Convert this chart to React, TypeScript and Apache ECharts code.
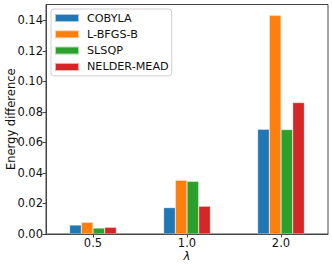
import React, { useEffect, useRef } from "react";
import * as echarts from "echarts";

const categories = ["0.5", "1.0", "2.0"];
const seriesNames = ["COBYLA", "L-BFGS-B", "SLSQP", "NELDER-MEAD"];
const cobyla = [0.0059, 0.0173, 0.0686];
const lbfgsb = [0.0077, 0.0352, 0.1432];
const slsqp = [0.0039, 0.0345, 0.0684];
const nelderMead = [0.0044, 0.0182, 0.0861];
const colors = ["#1f77b4", "#ff7f0e", "#2ca02c", "#d62728"];
const yTicks = [0, 0.02, 0.04, 0.06, 0.08, 0.1, 0.12, 0.14];

export default function App() {
  const ref = useRef<HTMLDivElement>(null);
  useEffect(() => {
    if (!ref.current) return;
    const chart = echarts.init(ref.current, undefined, { renderer: "svg" });
    const font = "DejaVu Sans";
    const fs = 11.5;
    const values = [cobyla, lbfgsb, slsqp, nelderMead];
    chart.setOption({
      animation: false,
      textStyle: { fontFamily: font },
      grid: {
        left: 46,
        right: 4,
        top: 4.5,
        bottom: 32,
        show: true,
        borderColor: "#444",
        borderWidth: 1,
        containLabel: false,
        outerBoundsMode: "none",
      },
      legend: {
        data: seriesNames,
        orient: "vertical",
        left: 51,
        top: 9,
        itemWidth: 24,
        itemHeight: 8,
        itemGap: 4.3,
        icon: "rect",
        padding: [3, 3, 3, 3],
        backgroundColor: "#fff",
        borderColor: "#d0d0d0",
        borderWidth: 1,
        borderRadius: 3,
        textStyle: { fontFamily: font, fontSize: 11.2, lineHeight: 12, color: "#111", padding: [0, 0, 0, 3] },
      },
      xAxis: {
        type: "category",
        data: categories,
        name: "λ",
        nameLocation: "middle",
        nameGap: 16,
        nameMoveOverlap: false,
        nameTextStyle: { fontFamily: font, fontSize: fs, lineHeight: 11, fontStyle: "italic", color: "#111" },
        axisLine: { show: true, lineStyle: { color: "#444", width: 1 } },
        axisTick: { show: true, alignWithLabel: true, length: 3.5, lineStyle: { color: "#444" } },
        axisLabel: { fontFamily: font, fontSize: fs, lineHeight: 11, color: "#111", margin: 3 },
        splitLine: { show: false },
      },
      yAxis: {
        type: "value",
        min: 0,
        max: 0.1503,
        interval: 0.02,
        name: "Energy difference",
        nameLocation: "middle",
        nameGap: 29,
        nameMoveOverlap: false,
        nameTextStyle: { fontFamily: font, fontSize: fs, color: "#111" },
        axisLine: { show: true, lineStyle: { color: "#444", width: 1 } },
        axisTick: { show: true, length: 3.5, lineStyle: { color: "#444" } },
        axisLabel: {
          fontFamily: font,
          fontSize: fs,
          color: "#111",
          margin: 3,
          showMaxLabel: false,
          formatter: (v: number) =>
            yTicks.some((t) => Math.abs(t - v) < 1e-9) ? v.toFixed(2) : "",
        },
        splitLine: { show: false },
      },
      series: seriesNames.map((name, i) => ({
        name,
        type: "bar",
        data: values[i],
        barWidth: 11.7,
        barGap: "0%",
        itemStyle: { color: colors[i], borderColor: "rgba(255,255,255,0.6)", borderWidth: 0.5 },
      })),
    });
    return () => chart.dispose();
  }, []);
  return <div ref={ref} style={{ width: 332, height: 266, position: "absolute", left: 0, top: 0 }} />;
}
